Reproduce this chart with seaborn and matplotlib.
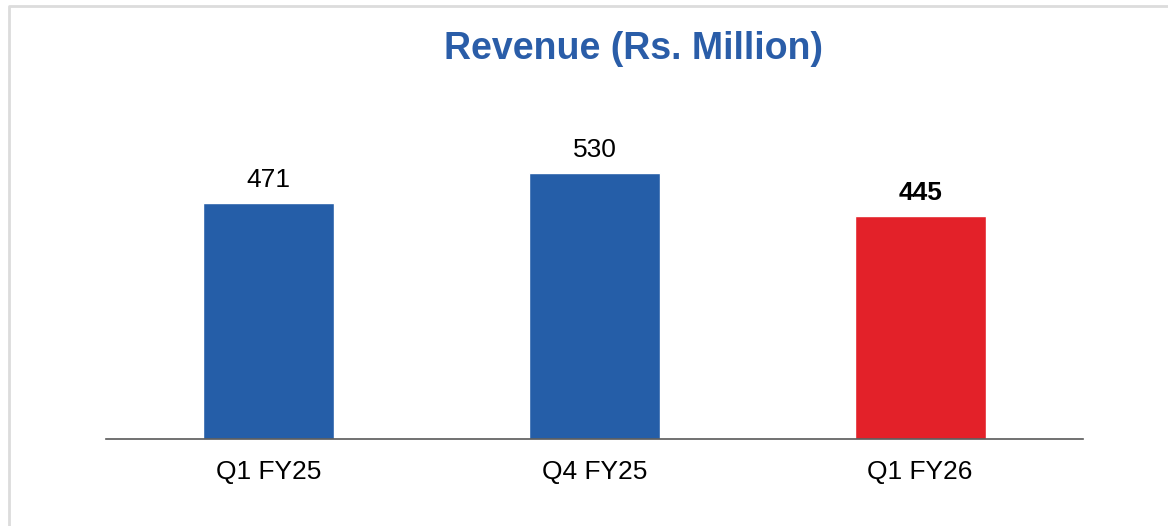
import matplotlib
matplotlib.use("Agg")
import matplotlib.pyplot as plt
import matplotlib.lines as mlines
import pandas as pd
import seaborn as sns

QUARTERS = ["Q1 FY25", "Q4 FY25", "Q1 FY26"]
REVENUE = [471, 530, 445]
BAR_COLORS = ["#255EA8", "#255EA8", "#E32129"]

sns.set_theme(style="white")
plt.rcParams["font.family"] = ["Liberation Sans", "DejaVu Sans"]

df = pd.DataFrame({"Quarter": QUARTERS, "Revenue": REVENUE})

fig = plt.figure(figsize=(11.68, 5.26), dpi=100)
# light frame, only left and top edges visible in the crop
fx, fy = 8.5 / 1168, 1 - 5.5 / 526
fig.lines.append(mlines.Line2D([fx, fx, 1.0], [0, fy, fy], transform=fig.transFigure,
                               color="#DCDCDC", linewidth=2))
ax = fig.add_axes([106 / 1168, 87 / 526, 977 / 1168, 339 / 526])

sns.barplot(data=df, x="Quarter", y="Revenue", hue="Quarter", palette=BAR_COLORS,
            width=0.403, legend=False, ax=ax, saturation=1)

ax.set_xlim(-0.5, 2.5)
ax.set_ylim(0, 676)
for s in ["top", "right", "left"]:
    ax.spines[s].set_visible(False)
ax.spines["bottom"].set_color("#595959")
ax.spines["bottom"].set_linewidth(1.2)
ax.set_yticks([])
ax.set_xlabel("")
ax.set_ylabel("")
ax.tick_params(axis="x", length=0, pad=15, labelsize=19, labelcolor="black")

for i, v in enumerate(REVENUE):
    bold = i == len(REVENUE) - 1
    ax.annotate(str(v), (i, v), xytext=(0, 8), textcoords="offset points", ha="center", va="bottom",
                fontsize=19, fontweight="bold" if bold else "normal", color="black")

fig.text(633 / 1168, 1 - 49 / 526, "Revenue (Rs. Million)", ha="center", va="center",
         fontsize=27, fontweight="bold", color="#2A5DA8")

fig.savefig("out.png", dpi=100)
